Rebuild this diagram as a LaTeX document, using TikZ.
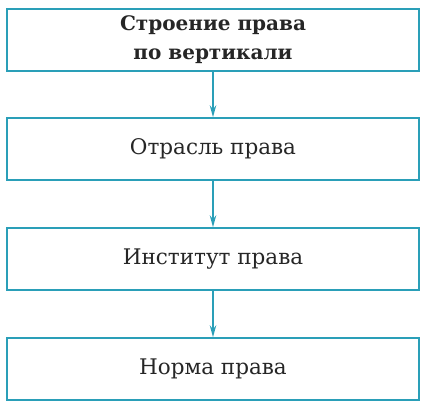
\documentclass[tikz,border=0pt]{standalone}
\usepackage{fontspec}
\setmainfont{DejaVu Serif}
\usetikzlibrary{arrows.meta}
\definecolor{teal1}{HTML}{2A9FB8}
\begin{document}
\begin{tikzpicture}[x=1pt,y=-1pt,
  box/.style={draw=teal1,line width=1.6pt,minimum width=412pt,minimum height=62pt,inner sep=0pt,align=center,font=\fontsize{21.5}{30}\selectfont,text=black!85},
  conn/.style={draw=teal1,line width=1.4pt,-{Stealth[length=12pt,width=6.5pt,inset=4pt]}}]
\useasboundingbox (0,0) rectangle (425,409);
\node[box,font=\fontsize{20}{29}\selectfont\bfseries] (a) at (213,40) {Строение права\\по вертикали};
\node[box] (b) at (213,149) {Отрасль права};
\node[box] (c) at (213,259) {Институт права};
\node[box] (d) at (213,369) {Норма права};
\draw[conn] (a) -- (b);
\draw[conn] (b) -- (c);
\draw[conn] (c) -- (d);
\end{tikzpicture}
\end{document}
